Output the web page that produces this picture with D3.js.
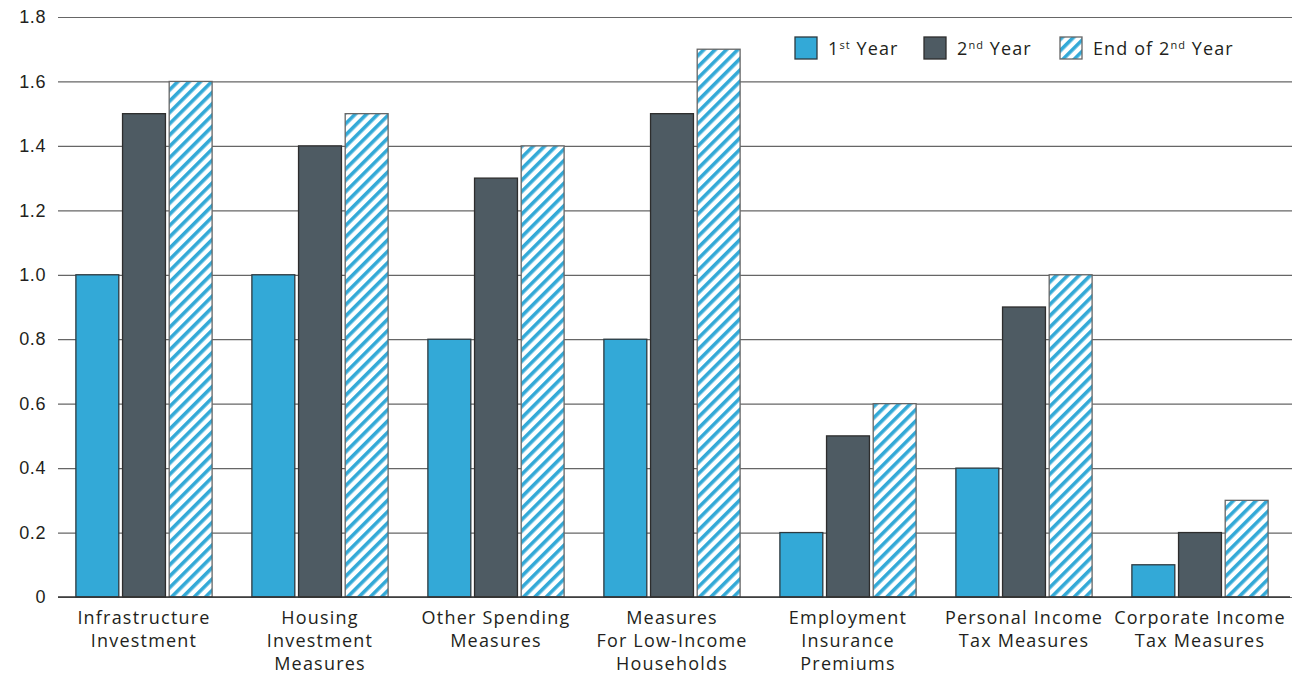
<!DOCTYPE html>
<html>
<head>
<meta charset="utf-8">
<script src="https://cdn.jsdelivr.net/npm/d3@7"></script>
<style>
  html, body { margin: 0; padding: 0; background: #fff; }
  svg { display: block; font-family: "Open Sans", "DejaVu Sans", sans-serif; }
</style>
</head>
<body>
<svg id="chart" width="1296" height="675"></svg>
<script>
// Category labels (multi-line)
const categories = [
  ["Infrastructure", "Investment"],
  ["Housing", "Investment", "Measures"],
  ["Other Spending", "Measures"],
  ["Measures", "For Low-Income", "Households"],
  ["Employment", "Insurance", "Premiums"],
  ["Personal Income", "Tax Measures"],
  ["Corporate Income", "Tax Measures"]
];
const firstYear = [1.0, 1.0, 0.8, 0.8, 0.2, 0.4, 0.1];
const secondYear = [1.5, 1.4, 1.3, 1.5, 0.5, 0.9, 0.2];
const endSecondYear = [1.6, 1.5, 1.4, 1.7, 0.6, 1.0, 0.3];
const yTicks = [0, 0.2, 0.4, 0.6, 0.8, 1.0, 1.2, 1.4, 1.6, 1.8];
const yTickLabels = ["0", "0.2", "0.4", "0.6", "0.8", "1.0", "1.2", "1.4", "1.6", "1.8"];

const seriesKeys = ["y1", "y2", "y3"];
const data = categories.map((c, i) => ({
  idx: i, y1: firstYear[i], y2: secondYear[i], y3: endSecondYear[i]
}));

const BLUE = "#33a9d7";
const DARK = "#4e5b63";
const TEXT = "#231f20";

const svg = d3.select("#chart");
const margin = { left: 56, right: 8, top: 17, bottom: 78 };
const W = 1296, H = 675;

const defs = svg.append("defs");
const pat = defs.append("pattern")
  .attr("id", "hatch")
  .attr("patternUnits", "userSpaceOnUse")
  .attr("width", 8).attr("height", 8)
  .attr("patternTransform", "rotate(45)");
pat.append("rect").attr("width", 8).attr("height", 8).attr("fill", "#fff");
pat.append("rect").attr("x", 0).attr("width", 3.6).attr("height", 8).attr("fill", BLUE);

const x = d3.scaleBand()
  .domain(d3.range(categories.length))
  .range([margin.left, W - margin.right])
  .paddingInner(0.226).paddingOuter(0.113);

const xs = d3.scaleBand()
  .domain(seriesKeys)
  .range([0, x.bandwidth()])
  .paddingInner(0.08);

const y = d3.scaleLinear().domain([0, 1.8]).range([H - margin.bottom, margin.top]);

// Gridlines + y labels
const yAxis = d3.axisLeft(y)
  .tickValues(yTicks)
  .tickFormat((d, i) => yTickLabels[i])
  .tickSize(-(W - margin.left - 6))
  .tickPadding(12);
const gy = svg.append("g").attr("transform", `translate(${margin.left + 2},0)`).call(yAxis);
gy.select(".domain").remove();
gy.selectAll(".tick line").attr("stroke", "#666").attr("stroke-width", 1.2);
gy.selectAll(".tick text").attr("font-size", 18).attr("fill", TEXT).attr("letter-spacing", 0.6);

// Bars
const fills = { y1: BLUE, y2: DARK, y3: "url(#hatch)" };
const strokes = { y1: "#2d3a40", y2: "#2d2d2d", y3: "#666" };
const groups = svg.append("g").selectAll("g").data(data).join("g")
  .attr("transform", d => `translate(${x(d.idx)},0)`);
groups.selectAll("rect")
  .data(d => seriesKeys.map(k => ({ key: k, value: d[k] })))
  .join("rect")
  .attr("x", d => xs(d.key))
  .attr("width", xs.bandwidth())
  .attr("y", d => y(d.value))
  .attr("height", d => y(0) - y(d.value))
  .attr("fill", d => fills[d.key])
  .attr("stroke", d => strokes[d.key])
  .attr("stroke-width", 1.3);

// Baseline
svg.append("line")
  .attr("x1", margin.left + 2).attr("x2", W - 6)
  .attr("y1", y(0)).attr("y2", y(0))
  .attr("stroke", "#333").attr("stroke-width", 1.6);

// Category labels
const lab = svg.append("g").selectAll("text").data(categories).join("text")
  .attr("x", (d, i) => x(i) + x.bandwidth() / 2)
  .attr("y", y(0) + 27)
  .attr("text-anchor", "middle")
  .attr("font-size", 18)
  .attr("letter-spacing", 1.2)
  .attr("fill", TEXT);
lab.selectAll("tspan").data(d => d).join("tspan")
  .attr("x", function () { return this.parentNode.getAttribute("x"); })
  .attr("dy", (d, i) => i === 0 ? 0 : 23)
  .text(d => d);

// Legend
const legend = [
  { fill: BLUE, stroke: "#2d3a40", parts: [["1", false], ["st", true], [" Year", false]], x: 795 },
  { fill: DARK, stroke: "#2d2d2d", parts: [["2", false], ["nd", true], [" Year", false]], x: 924 },
  { fill: "url(#hatch)", stroke: "#666", parts: [["End of 2", false], ["nd", true], [" Year", false]], x: 1060 }
];
const lg = svg.append("g").selectAll("g").data(legend).join("g")
  .attr("transform", d => `translate(${d.x},37)`);
lg.append("rect").attr("width", 22).attr("height", 22)
  .attr("fill", d => d.fill).attr("stroke", d => d.stroke).attr("stroke-width", 1.3);
const lt = lg.append("text").attr("x", 33).attr("y", 18).attr("font-size", 18)
  .attr("letter-spacing", 1.1).attr("fill", TEXT);
lt.selectAll("tspan").data(d => d.parts).join("tspan")
  .attr("font-size", d => d[1] ? 11 : 18)
  .attr("dy", (d, i, n) => {
    const prev = i > 0 ? n[i - 1].__data__ : null;
    if (d[1]) return -6;
    if (prev && prev[1]) return 6;
    return 0;
  })
  .text(d => d[0]);
</script>
</body>
</html>
